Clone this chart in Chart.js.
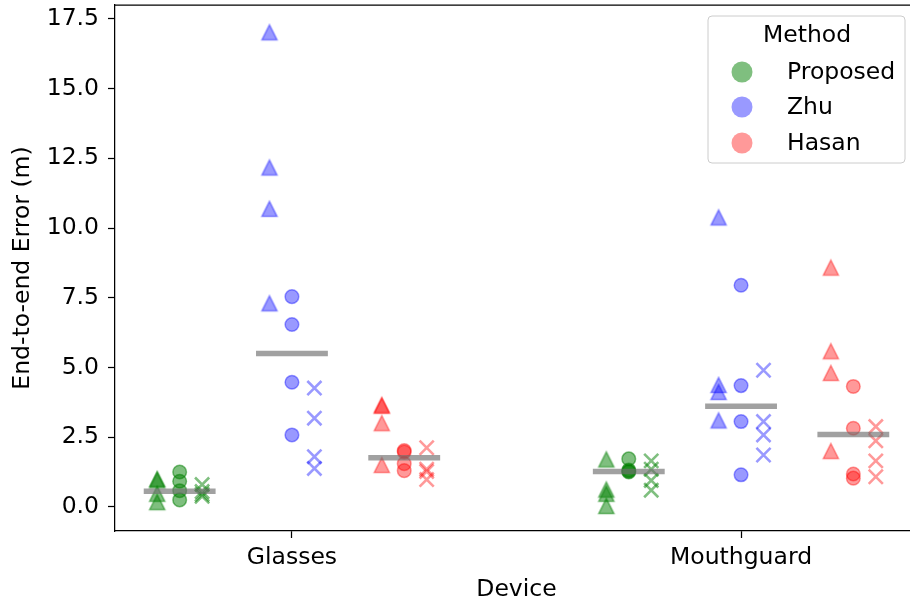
<!DOCTYPE html>
<html>
<head>
<meta charset="utf-8">
<script src="https://cdn.jsdelivr.net/npm/chart.js@4/dist/chart.umd.min.js"></script>
<style>
  html, body { margin: 0; padding: 0; overflow: hidden; background: #fff; width: 910px; height: 604px; }
  #wrap { position: relative; width: 920px; height: 604px; }
</style>
</head>
<body>
<div id="wrap"><canvas id="c"></canvas></div>
<script>
// Categories and series
const devices = ['Glasses', 'Mouthguard'];
const methods = ['Proposed', 'Zhu', 'Hasan'];
const yTicks = [0, 2.5, 5, 7.5, 10, 12.5, 15, 17.5];

// End-to-end error (m); each array holds [Glasses runs, Mouthguard runs]
const proposedTriangle = [[1.0, 0.95, 0.47, 0.17], [1.7, 0.62, 0.47, 0.03]];
const proposedCircle   = [[1.25, 0.92, 0.58, 0.25], [1.72, 1.32, 1.28, 1.25]];
const proposedCross    = [[0.8, 0.55, 0.45, 0.38], [1.65, 1.35, 0.95, 0.6]];

const zhuTriangle = [[17.02, 12.17, 10.69, 7.3], [10.38, 4.37, 4.12, 3.1]];
const zhuCircle   = [[7.54, 6.54, 4.47, 2.58], [7.95, 4.35, 3.06, 1.15]];
const zhuCross    = [[4.26, 3.18, 1.8, 1.38], [4.9, 3.06, 2.58, 1.86]];

const hasanTriangle = [[3.66, 3.62, 3.0, 1.5], [8.58, 5.58, 4.8, 2.0]];
const hasanCircle   = [[2.02, 1.97, 1.55, 1.3], [4.32, 2.82, 1.18, 1.03]];
const hasanCross    = [[2.12, 1.35, 1.27, 0.98], [2.88, 2.37, 1.65, 1.08]];

// Styling
const FONT = { family: "'DejaVu Sans', sans-serif", size: 23.5 };
const methodColors = ['rgba(0,128,0,0.5)', 'rgba(0,0,255,0.4)', 'rgba(255,0,0,0.4)'];
const methodOffset = [-0.25, 0, 0.25];
const markerOffset = { triangle: -0.05, circle: 0, cross: 0.05 };
const medianHalfWidth = 0.08;

const seriesByMethod = [
  { triangle: proposedTriangle, circle: proposedCircle, cross: proposedCross },
  { triangle: zhuTriangle, circle: zhuCircle, cross: zhuCross },
  { triangle: hasanTriangle, circle: hasanCircle, cross: hasanCross }
];

// Upward triangle marker, same shape as a matplotlib '^'
function triangleMarker(color) {
  const s = 24, m = s / 2, h = 7.6;
  const cv = document.createElement('canvas');
  cv.width = s; cv.height = s;
  const g = cv.getContext('2d');
  g.beginPath();
  g.moveTo(m, m - h);
  g.lineTo(m - h, m + h);
  g.lineTo(m + h, m + h);
  g.closePath();
  g.fillStyle = color;
  g.fill();
  g.lineWidth = 1.5;
  g.lineJoin = 'miter';
  g.strokeStyle = color;
  g.stroke();
  return cv;
}

function median(values) {
  const v = values.slice().sort((a, b) => a - b);
  const n = v.length;
  return n % 2 ? v[(n - 1) / 2] : (v[n / 2 - 1] + v[n / 2]) / 2;
}

const datasets = [];
methods.forEach((method, mi) => {
  const color = methodColors[mi];
  const s = seriesByMethod[mi];
  ['triangle', 'circle', 'cross'].forEach(kind => {
    const pts = [];
    devices.forEach((d, di) => {
      s[kind][di].forEach(v => pts.push({ x: di + methodOffset[mi] + markerOffset[kind], y: v }));
    });
    const ds = {
      type: 'scatter',
      label: method + ' ' + kind,
      data: pts,
      order: 2,
      backgroundColor: color,
      borderColor: color
    };
    if (kind === 'triangle') {
      Object.assign(ds, { pointStyle: triangleMarker(color), pointRadius: 8, borderWidth: 0 });
    } else if (kind === 'circle') {
      Object.assign(ds, { pointStyle: 'circle', pointRadius: 6.8, borderWidth: 1.5 });
    } else {
      Object.assign(ds, { pointStyle: 'crossRot', pointRadius: 10, borderWidth: 2.6 });
    }
    datasets.push(ds);
  });
  // Median bar for each device
  devices.forEach((d, di) => {
    const all = s.triangle[di].concat(s.circle[di], s.cross[di]);
    const med = median(all);
    const cx = di + methodOffset[mi];
    datasets.push({
      type: 'line',
      label: method + ' median ' + d,
      data: [{ x: cx - medianHalfWidth, y: med }, { x: cx + medianHalfWidth, y: med }],
      order: 1,
      borderColor: 'rgba(110,110,110,0.65)',
      borderWidth: 5.5,
      borderCapStyle: 'butt',
      pointRadius: 0,
      fill: false
    });
  });
});

// Top and right spines
const framePlugin = {
  id: 'frame',
  afterDatasetsDraw(chart) {
    const { ctx, chartArea: a } = chart;
    ctx.save();
    ctx.strokeStyle = '#000';
    ctx.lineWidth = 1.25;
    ctx.beginPath();
    ctx.moveTo(a.left, a.top);
    ctx.lineTo(a.right, a.top);
    ctx.lineTo(a.right, a.bottom);
    ctx.stroke();
    ctx.restore();
  }
};

// Legend box in the upper right corner
const legendPlugin = {
  id: 'methodLegend',
  afterDraw(chart) {
    const ctx = chart.ctx;
    const bx = 708, by = 16, bw = 197, bh = 147, r = 4;
    ctx.save();
    ctx.beginPath();
    ctx.moveTo(bx + r, by);
    ctx.arcTo(bx + bw, by, bx + bw, by + bh, r);
    ctx.arcTo(bx + bw, by + bh, bx, by + bh, r);
    ctx.arcTo(bx, by + bh, bx, by, r);
    ctx.arcTo(bx, by, bx + bw, by, r);
    ctx.closePath();
    ctx.fillStyle = 'rgba(255,255,255,0.8)';
    ctx.fill();
    ctx.strokeStyle = '#cccccc';
    ctx.lineWidth = 1;
    ctx.stroke();

    ctx.font = FONT.size + 'px ' + FONT.family;
    ctx.fillStyle = '#000';
    ctx.textBaseline = 'middle';
    ctx.textAlign = 'center';
    ctx.fillText('Method', 807, 36);
    ctx.textAlign = 'left';
    const rows = [72, 107, 143];
    methods.forEach((m, i) => {
      ctx.beginPath();
      ctx.arc(742, rows[i], 10.5, 0, Math.PI * 2);
      ctx.fillStyle = methodColors[i];
      ctx.fill();
      ctx.fillStyle = '#000';
      ctx.fillText(m, 787, rows[i] + 1);
    });
    ctx.restore();
  }
};

Chart.defaults.font.family = FONT.family;
Chart.defaults.font.size = FONT.size;
Chart.defaults.color = '#000';

new Chart(document.getElementById('c'), {
  type: 'scatter',
  data: { datasets },
  options: {
    responsive: true,
    maintainAspectRatio: false,
    animation: false,
    events: [],
    layout: { autoPadding: false, padding: { top: 5, right: 2, left: 0, bottom: 0 } },
    plugins: { legend: { display: false }, tooltip: { enabled: false } },
    scales: {
      x: {
        type: 'linear',
        min: -0.394,
        max: 1.394,
        afterBuildTicks: s => { s.ticks = [{ value: 0 }, { value: 1 }]; },
        afterFit: s => { s.height = 73; s.paddingLeft = 0; s.paddingRight = 0; },
        ticks: {
          padding: 6,
          maxRotation: 0,
          autoSkip: false,
          color: '#000',
          font: FONT,
          callback: v => devices[v]
        },
        grid: { display: true, drawOnChartArea: false, drawTicks: true, tickLength: 7, tickWidth: 1.25, tickColor: '#000' },
        border: { display: true, color: '#000', width: 1.25 },
        title: { display: true, text: 'Device', color: '#000', font: FONT, padding: { top: 0, bottom: 0 } }
      },
      y: {
        type: 'linear',
        min: -0.865,
        max: 18.0,
        afterBuildTicks: s => { s.ticks = yTicks.map(v => ({ value: v })); },
        afterFit: s => { s.width = 115; s.paddingTop = 0; s.paddingBottom = 0; },
        ticks: {
          padding: 9,
          autoSkip: false,
          color: '#000',
          font: FONT,
          callback: v => Number(v).toFixed(1)
        },
        grid: { display: true, drawOnChartArea: false, drawTicks: true, tickLength: 7, tickWidth: 1.25, tickColor: '#000' },
        border: { display: true, color: '#000', width: 1.25 },
        title: { display: true, text: 'End-to-end Error (m)', color: '#000', font: FONT, padding: { top: 9, bottom: 0 } }
      }
    }
  },
  plugins: [framePlugin, legendPlugin]
});
</script>
</body>
</html>
